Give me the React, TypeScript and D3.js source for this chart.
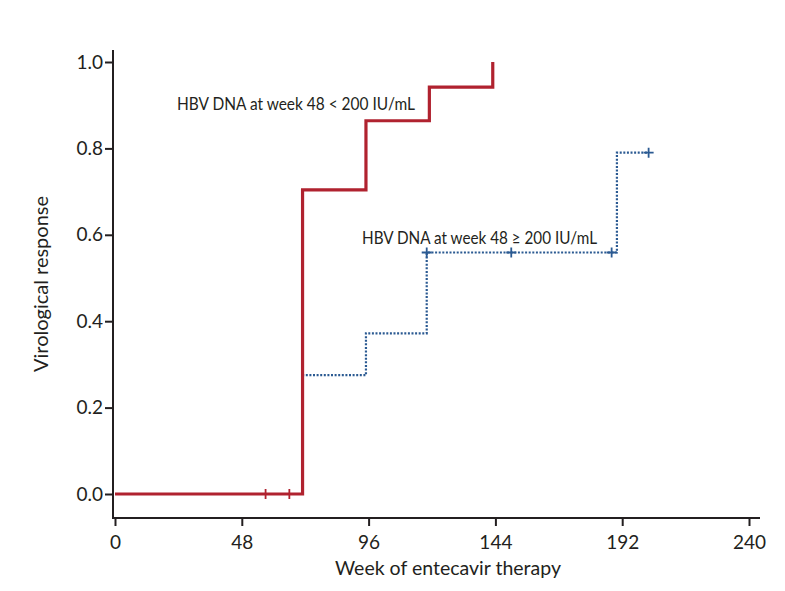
import React, { useEffect, useRef } from 'react';
import * as d3 from 'd3';

// Kaplan-Meier style steps: [week, cumulative response]
const lowWeeks = [0, 71, 95, 119, 143];
const lowValues = [0, 0.704, 0.864, 0.942, 1.0];
const lowCensorWeeks = [57, 66];
const lowCensorValues = [0, 0];

const highWeeks = [0, 71, 95, 118, 190, 202];
const highValues = [0, 0.275, 0.372, 0.559, 0.79, 0.79];
const highCensorWeeks = [118, 150, 188, 202];
const highCensorValues = [0.559, 0.559, 0.559, 0.79];

const xTicks = [0, 48, 96, 144, 192, 240];
const yTicks = [0, 0.2, 0.4, 0.6, 0.8, 1.0];

const lowLabel = 'HBV DNA at week 48 < 200 IU/mL';
const highLabel = 'HBV DNA at week 48 ≥ 200 IU/mL';

const RED = '#b0222f';
const BLUE = '#2b5a92';
const INK = '#231f20';
const FONT = 'Lato, sans-serif';

const App: React.FC = () => {
  const svgRef = useRef<SVGSVGElement>(null);

  useEffect(() => {
    const svg = d3.select(svgRef.current);
    svg.selectAll('*').remove();

    const x = d3.scaleLinear().domain([0, 240]).range([115, 749]);
    const y = d3.scaleLinear().domain([0, 1]).range([494, 62]);
    const axisX = 113;
    const axisY = 518;

    // axis lines
    svg.append('line')
      .attr('x1', axisX).attr('x2', axisX).attr('y1', 50).attr('y2', axisY + 1)
      .attr('stroke', INK).attr('stroke-width', 2);
    svg.append('line')
      .attr('x1', axisX).attr('x2', 760).attr('y1', axisY).attr('y2', axisY)
      .attr('stroke', INK).attr('stroke-width', 2);

    const gx = svg.append('g').attr('transform', `translate(0,${axisY})`)
      .call(d3.axisBottom(x).tickValues(xTicks).tickSize(8).tickSizeOuter(0).tickFormat(d3.format('d')));
    gx.select('.domain').remove();
    gx.selectAll('line').attr('stroke', INK).attr('stroke-width', 2);
    gx.selectAll('text').attr('font-family', FONT).attr('font-size', 19).attr('fill', INK)
      .attr('y', 31).attr('dy', null);

    const gy = svg.append('g').attr('transform', `translate(${axisX},0)`)
      .call(d3.axisLeft(y).tickValues(yTicks).tickSize(8).tickSizeOuter(0).tickFormat(d3.format('.1f')));
    gy.select('.domain').remove();
    gy.selectAll('line').attr('stroke', INK).attr('stroke-width', 2);
    gy.selectAll('text').attr('font-family', FONT).attr('font-size', 19).attr('fill', INK).attr('x', -10);

    // axis titles
    svg.append('text')
      .attr('x', 448).attr('y', 575).attr('text-anchor', 'middle')
      .attr('font-family', FONT).attr('font-size', 19.5).attr('fill', INK)
      .text('Week of entecavir therapy');
    svg.append('text')
      .attr('transform', 'translate(48,284) rotate(-90)').attr('text-anchor', 'middle')
      .attr('font-family', FONT).attr('font-size', 20).attr('fill', INK)
      .text('Virological response');

    // high group (dotted blue)
    const highPts: [number, number][] = highWeeks.map((w, i) => [x(w), y(highValues[i])]);
    svg.append('path')
      .attr('d', d3.line().curve(d3.curveStepAfter)(highPts))
      .attr('fill', 'none').attr('stroke', BLUE).attr('stroke-width', 2.2)
      .attr('stroke-dasharray', '2,1.6');
    highCensorWeeks.forEach((w, i) => {
      const cx = x(w), cy = y(highCensorValues[i]);
      svg.append('path')
        .attr('d', `M${cx - 5},${cy}H${cx + 5}M${cx},${cy - 5}V${cy + 5}`)
        .attr('stroke', BLUE).attr('stroke-width', 1.8).attr('fill', 'none');
    });

    // low group (solid red)
    const lowPts: [number, number][] = lowWeeks.map((w, i) => [x(w), y(lowValues[i])]);
    svg.append('path')
      .attr('d', d3.line().curve(d3.curveStepAfter)(lowPts))
      .attr('fill', 'none').attr('stroke', RED).attr('stroke-width', 3.2);
    lowCensorWeeks.forEach((w, i) => {
      const cx = x(w), cy = y(lowCensorValues[i]);
      svg.append('line')
        .attr('x1', cx).attr('x2', cx).attr('y1', cy - 5).attr('y2', cy + 5)
        .attr('stroke', RED).attr('stroke-width', 1.8);
    });

    // annotations
    svg.append('text')
      .attr('x', 177).attr('y', 110)
      .attr('font-family', FONT).attr('font-size', 17).attr('fill', INK)
      .attr('textLength', 238).attr('lengthAdjust', 'spacingAndGlyphs')
      .text(lowLabel);
    svg.append('text')
      .attr('x', 362).attr('y', 244)
      .attr('font-family', FONT).attr('font-size', 17).attr('fill', INK)
      .attr('textLength', 235).attr('lengthAdjust', 'spacingAndGlyphs')
      .text(highLabel);
  }, []);

  return (
    <svg ref={svgRef} width={785} height={591}
      style={{ position: 'absolute', left: 0, top: 0, background: '#fff' }} />
  );
};

export default App;
